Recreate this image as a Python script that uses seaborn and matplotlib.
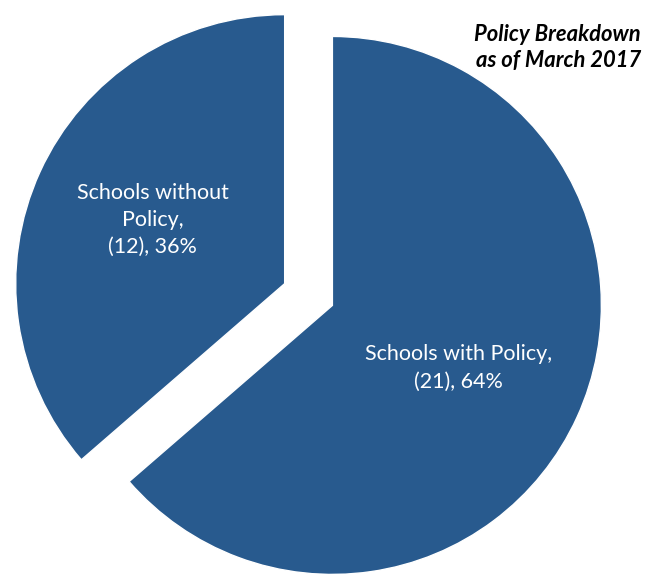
import matplotlib.pyplot as plt
import seaborn as sns

categories = ["Schools with Policy,", "Schools without\nPolicy,"]
counts = [21, 12]
title = "Policy Breakdown\nas of March 2017"

sns.set_theme(style="white")
plt.rcParams["font.family"] = ["Lato", "DejaVu Sans"]
blue = "#285A8E"
colors = sns.color_palette([blue, blue])

total = sum(counts)
labels = ["{0}\n({1}), {2:.0f}%".format(c, n, 100 * n / total) for c, n in zip(categories, counts)]

fig = plt.figure(figsize=(6.48, 5.74), dpi=100)
ax = fig.add_axes([0, 0, 1, 1])

wedges, texts = ax.pie(counts, colors=colors, startangle=90, counterclock=False,
                       explode=(0.0975, 0.0975), labels=labels, labeldistance=0.48,
                       textprops=dict(color="white", fontsize=15.5, ha="center", va="center",
                                      linespacing=1.45))
# nudge labels to where they sit in the original
texts[0].set_position((0.556, -0.273))
texts[1].set_position((-0.580, 0.277))

ax.set_xlim(-1.147, 1.262)
ax.set_ylim(-1.039, 1.095)
ax.set_aspect("auto")
ax.axis("off")

fig.text(0.989, 0.918, title, ha="right", va="center", fontsize=15.8,
         fontweight="bold", fontstyle="italic", color="black", linespacing=1.3)

plt.savefig("out.png", dpi=100)
